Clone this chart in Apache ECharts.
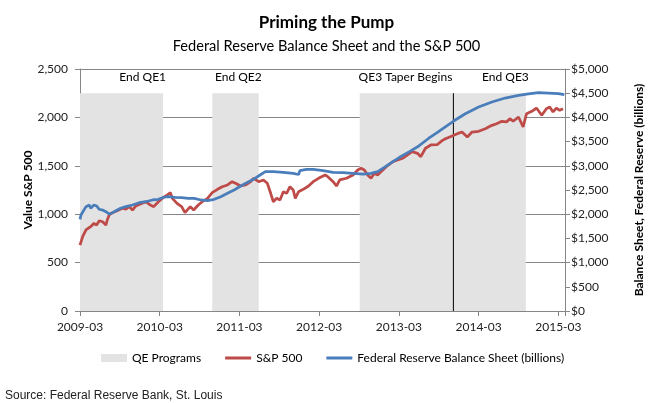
<!DOCTYPE html>
<html><head><meta charset="utf-8">
<script src="https://cdn.jsdelivr.net/npm/echarts@6/dist/echarts.min.js"></script>
<style>html,body{margin:0;padding:0;background:#fff}#c{width:653px;height:403px}</style>
</head><body><div id="c"></div>
<script>
// x positions are months since 2009-03
const xTickLabels = ['2009-03','2010-03','2011-03','2012-03','2013-03','2014-03','2015-03'];

const spMonths = [0,0.4,0.9,1.6,2.1,2.5,2.9,3.4,3.9,4.1,4.4,4.9,5.6,6.4,6.9,7.4,7.9,8.4,9.1,9.9,
  10.6,11.1,11.8,12.6,13.1,13.6,13.9,14.6,15.3,15.8,16.6,17.1,17.8,18.4,19.2,19.9,20.7,21.4,22.2,22.9,
  23.4,24.2,24.9,25.7,26.1,26.9,27.6,28.2,28.7,29.1,29.6,30.1,30.6,31.1,31.6,32.1,32.4,32.9,33.6,34.4,
  35.1,35.9,36.9,37.3,38.1,38.6,39.1,40.1,41.1,41.8,42.3,42.8,43.3,43.8,44.3,44.8,45.3,46.1,47.1,47.8,
  48.6,49.3,50.0,50.8,51.3,52.0,52.8,53.8,54.5,55.0,56.0,56.8,57.5,58.3,59.0,60.0,61.0,62.0,62.7,63.5,
  64.2,64.7,65.2,66.0,66.7,67.2,68.0,68.7,69.5,70.2,70.7,71.2,71.7,72.2,72.7];
const spValues = [680,768,837,871,906,888,933,922,888,940,992,1016,1036,1061,1051,1078,1043,1085,1105,1129,
  1095,1078,1129,1175,1198,1222,1164,1112,1078,1016,1078,1043,1095,1129,1164,1222,1257,1284,1302,1336,
  1319,1291,1302,1336,1371,1336,1354,1319,1216,1129,1164,1147,1232,1216,1284,1250,1164,1232,1257,1291,
  1336,1371,1405,1388,1336,1291,1354,1371,1405,1457,1474,1457,1405,1371,1422,1405,1439,1491,1543,1560,
  1578,1612,1646,1629,1594,1681,1715,1720,1760,1780,1808,1832,1849,1797,1849,1856,1883,1918,1935,1960,
  1953,1987,1960,2004,1901,2038,2063,2097,2022,2090,2107,2056,2097,2073,2090];

const fedMonths = [0,0.15,0.9,1.4,1.6,2.1,2.5,2.9,3.4,3.9,4.4,4.9,5.4,6.1,6.9,7.9,8.9,9.9,10.9,11.8,
  12.6,13.3,14.3,15.3,16.3,17.2,18.2,19.2,20.2,21.2,22.2,23.2,24.2,25.1,26.1,27.1,27.9,29.1,30.6,32.1,
  32.9,33.1,34.1,35.1,36.6,38.1,39.6,41.1,42.6,43.8,44.8,45.8,47.1,48.1,49.6,51.0,52.5,53.8,54.5,56.3,
  58.0,60.0,62.0,64.0,66.0,67.5,69.0,70.5,72.0,72.9];
const fedValues = [1894,1984,2156,2190,2122,2190,2170,2102,2086,2052,2004,2032,2072,2122,2156,2190,2238,2258,2294,2308,
  2350,2362,2350,2342,2328,2328,2294,2280,2308,2362,2432,2500,2582,2652,2720,2810,2878,2878,2866,2844,
  2820,2900,2928,2928,2900,2866,2858,2844,2830,2844,2878,2968,3086,3176,3292,3410,3570,3690,3760,3930,
  4076,4214,4318,4400,4456,4484,4512,4504,4490,4470];

const qeStart = [0, 19.9, 42.1];
const qeEnd = [12.5, 26.9, 67.1];
const qeLabels = ['End QE1', 'End QE2', 'End QE3'];
const qeTop = 2250;
const labelLevel = 2420;
const taperMonth = 56.2;
const taperLabel = 'QE3 Taper Begins';

const FONT = 'Lato, "Open Sans", sans-serif';
const LINE_ICON = 'path://M0,0 L26,0 L26,0 Z M0,2.5 L26,2.5 L26,5.5 L0,5.5 Z M0,8 L26,8 L26,8 Z';
const chart = echarts.init(document.getElementById('c'), null, {renderer: 'canvas'});

const qeData = qeStart.map((s, i) => [s, qeEnd[i], qeTop, labelLevel]);

chart.setOption({
  animation: false,
  backgroundColor: '#fff',
  textStyle: {fontFamily: FONT},
  title: [
    {text: 'Priming the Pump', left: 'center', top: 9,
     textStyle: {fontFamily: FONT, fontSize: 17, fontWeight: 'bold', color: '#000'}},
    {text: 'Federal Reserve Balance Sheet and the S&P 500', left: 'center', top: 34,
     textStyle: {fontFamily: FONT, fontSize: 14.6, fontWeight: 'normal', color: '#000'}},
    {text: 'Source: Federal Reserve Bank, St. Louis', left: 0, top: 385,
     textStyle: {fontFamily: '"Liberation Sans", Arial, sans-serif', fontSize: 12, fontWeight: 'normal', color: '#222'}}
  ],
  grid: {left: 80, right: 85, top: 69, bottom: 92, containLabel: false},
  legend: {
    left: 96, top: 347, itemGap: 24, itemWidth: 26, itemHeight: 8,
    textStyle: {fontFamily: FONT, fontSize: 12, color: '#000'},
    data: [
      {name: 'QE Programs', icon: 'rect'},
      {name: 'S&P 500', icon: LINE_ICON},
      {name: 'Federal Reserve Balance Sheet (billions)', icon: LINE_ICON}
    ]
  },
  xAxis: {
    type: 'value', min: 0, max: 73, interval: 12,
    axisLine: {show: true, lineStyle: {color: '#868686', width: 1}},
    axisTick: {show: true, length: 5, lineStyle: {color: '#868686'}},
    splitLine: {show: false},
    axisLabel: {
      margin: 10, fontFamily: FONT, fontSize: 12, color: '#222',
      formatter: v => (v % 12 === 0 && xTickLabels[v / 12]) ? xTickLabels[v / 12] : ''
    }
  },
  yAxis: [
    {
      type: 'value', min: 0, max: 2500, interval: 500, position: 'left',
      name: 'Value S&P 500', nameLocation: 'middle', nameGap: 46, nameRotate: 90, nameMoveOverlap: false,
      nameTextStyle: {fontFamily: FONT, fontSize: 12, fontWeight: 'bold', color: '#000'},
      axisLine: {show: true, lineStyle: {color: '#868686'}},
      axisTick: {show: true, length: 5, lineStyle: {color: '#868686'}},
      splitLine: {show: true, lineStyle: {color: '#868686', width: 1}},
      axisLabel: {margin: 12, fontFamily: FONT, fontSize: 12, color: '#222',
        formatter: v => v.toLocaleString('en-US')}
    },
    {
      type: 'value', min: 0, max: 5000, interval: 500, position: 'right',
      name: 'Balance Sheet, Federal Reserve (billions)', nameLocation: 'middle', nameGap: 68, nameRotate: 90, nameMoveOverlap: false,
      nameTextStyle: {fontFamily: FONT, fontSize: 12, fontWeight: 'bold', color: '#000'},
      axisLine: {show: true, lineStyle: {color: '#868686'}},
      axisTick: {show: true, length: 5, lineStyle: {color: '#868686'}},
      splitLine: {show: false},
      axisLabel: {margin: 6, fontFamily: FONT, fontSize: 12, color: '#222',
        formatter: v => '$' + v.toLocaleString('en-US')}
    }
  ],
  series: [
    {
      name: 'QE Programs', type: 'custom', yAxisIndex: 0,
      itemStyle: {color: '#e3e3e3'},
      encode: {x: [0, 1], y: [2, 3]},
      data: qeData,
      renderItem: (params, api) => {
        const p0 = api.coord([api.value(0), api.value(2)]);
        const p1 = api.coord([api.value(1), 0]);
        const pl = api.coord([api.value(1), api.value(3)]);
        return {
          type: 'group',
          children: [
            {type: 'rect', shape: {x: p0[0], y: p0[1], width: p1[0] - p0[0], height: p1[1] - p0[1]},
             style: {fill: '#e3e3e3'}},
            {type: 'text', style: {text: qeLabels[params.dataIndex], x: pl[0] + 3, y: pl[1],
              textAlign: 'right', textVerticalAlign: 'middle', fill: '#000',
              font: '12px ' + FONT}}
          ]
        };
      },
      z: 1
    },
    {
      name: 'taper', type: 'custom', yAxisIndex: 0,
      data: [[taperMonth, qeTop, labelLevel]],
      encode: {x: 0, y: [1, 2]},
      renderItem: (params, api) => {
        const top = api.coord([api.value(0), api.value(1)]);
        const bot = api.coord([api.value(0), 0]);
        const lab = api.coord([api.value(0), api.value(2)]);
        return {
          type: 'group',
          children: [
            {type: 'line', shape: {x1: top[0], y1: top[1], x2: bot[0], y2: bot[1]},
             style: {stroke: '#000', lineWidth: 1}},
            {type: 'text', style: {text: taperLabel, x: lab[0] - 1, y: lab[1],
              textAlign: 'right', textVerticalAlign: 'middle', fill: '#000', font: '12px ' + FONT}}
          ]
        };
      },
      z: 2
    },
    {
      name: 'S&P 500', type: 'line', yAxisIndex: 0, symbol: 'none',
      lineStyle: {color: '#be4b48', width: 2.75}, itemStyle: {color: '#be4b48'},
      data: spMonths.map((m, i) => [m, spValues[i]]), z: 3
    },
    {
      name: 'Federal Reserve Balance Sheet (billions)', type: 'line', yAxisIndex: 1, symbol: 'none',
      lineStyle: {color: '#4a7ebb', width: 2.75}, itemStyle: {color: '#4a7ebb'},
      data: fedMonths.map((m, i) => [m, fedValues[i]]), z: 4
    }
  ]
});
</script>
</body></html>
